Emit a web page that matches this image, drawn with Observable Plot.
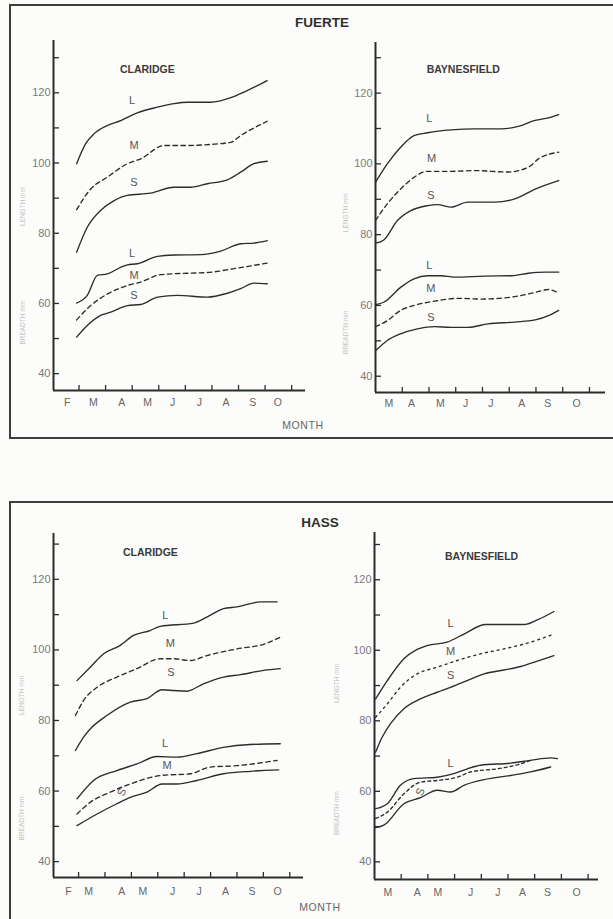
<!DOCTYPE html>
<html><head><meta charset="utf-8">
<script src="https://cdn.jsdelivr.net/npm/d3@7"></script>
<script src="https://cdn.jsdelivr.net/npm/@observablehq/plot@0.6"></script>
<style>
html,body{margin:0;padding:0;}
body{background:#fcfcfa;width:613px;height:919px;overflow:hidden;position:relative;font-family:"Liberation Sans",Arial,sans-serif;}
.frame{position:absolute;border:2.5px solid #3d3d3d;box-sizing:border-box;}
.title{position:absolute;font-weight:bold;font-size:13.5px;color:#2f2f2f;transform:translateX(-50%);white-space:nowrap;}
.xlab{position:absolute;font-size:10.5px;color:#666;letter-spacing:0.6px;transform:translateX(-50%);white-space:nowrap;}
</style></head><body>
<div class="frame" style="left:9px;top:4px;width:640px;height:435px"></div>
<div class="frame" style="left:9px;top:501px;width:640px;height:460px"></div>
<div class="title" style="left:322px;top:15px">FUERTE</div>
<div class="title" style="left:320px;top:515px">HASS</div>
<div class="xlab" style="left:303px;top:419px">MONTH</div>
<div class="xlab" style="left:320px;top:901px">MONTH</div>
<script>
// ---- month tick labels ----
const claridgeMonths = ["F","M","A","M","J","J","A","S","O"];
const baynesMonths = ["M","A","M","J","J","A","S","O"];
const fcMonthAt = [2.56,3.54,4.61,5.58,6.52,7.53,8.53,9.54,10.48];
const fbMonthAt = [3.50,4.35,5.43,6.37,7.31,8.47,9.44,10.52];
const hcMonthAt = [2.62,3.38,4.64,5.44,6.56,7.57,8.57,9.57,10.54];
const hbMonthAt = [3.50,4.60,5.37,6.60,7.62,8.54,9.48,10.57];
const yTicks = [40,50,60,70,80,90,100,110,120,130];
const yTickLabels = [40,60,80,100,120];
const sizeLetters = ["L","M","S","L","M","S"];

// ---- FUERTE, CLARIDGE  [month, mm] ----
const fcLenL = [[2.91,99.8],[3.25,105.5],[3.56,108.3],[4.07,110.7],[4.57,112.1],[5.19,114.3],[5.95,115.9],[6.57,116.9],[7.08,117.3],[7.95,117.3],[8.71,118.6],[9.21,120.2],[10.08,123.5]];
const fcLenM = [[2.91,86.7],[3.44,92.6],[4.07,96.0],[4.82,99.8],[5.32,101.2],[6.20,105.0],[7.08,105.0],[7.95,105.3],[8.71,105.9],[9.08,107.8],[10.08,111.9]];
const fcLenS = [[2.91,74.6],[3.31,81.7],[3.81,86.5],[4.32,89.3],[4.82,90.8],[5.69,91.4],[6.57,93.1],[7.20,93.1],[7.83,94.1],[8.58,95.2],[9.08,97.4],[9.58,99.8],[10.08,100.5]];
const fcBrL = [[2.91,60.1],[3.31,62.3],[3.69,68.0],[4.07,68.4],[4.57,70.3],[4.82,71.0],[5.19,71.3],[5.95,73.4],[6.57,73.8],[7.58,73.9],[8.33,74.9],[9.08,77.0],[9.58,77.2],[10.08,77.9]];
const fcBrM = [[2.91,55.3],[3.44,59.4],[4.07,62.7],[4.82,65.1],[5.32,66.1],[6.07,68.2],[7.08,68.6],[7.83,68.8],[8.83,69.9],[10.08,71.5]];
const fcBrS = [[2.91,50.4],[3.31,53.7],[3.81,56.6],[4.19,57.5],[4.82,59.4],[5.32,59.7],[5.95,61.8],[6.70,62.3],[7.83,61.8],[8.58,62.9],[9.08,64.2],[9.58,65.8],[10.08,65.6]];
const fcLetterAt = [[5.0,117.8],[5.07,105.0],[5.07,94.5],[5.0,74.1],[5.07,68.0],[5.07,62.3]];

// ---- FUERTE, BAYNESFIELD ----
const fbLenL = [[3.0,94.8],[3.44,100.0],[3.94,104.7],[4.44,108.0],[4.95,108.8],[5.83,109.6],[6.71,109.9],[7.71,109.9],[8.34,110.6],[8.97,112.3],[9.47,113.0],[9.85,113.9]];
const fbLenM = [[3.0,84.0],[3.44,88.7],[3.94,92.9],[4.44,96.2],[4.95,97.9],[5.83,97.9],[6.71,98.1],[7.96,97.7],[8.72,99.1],[9.09,101.4],[9.85,103.3]];
const fbLenS = [[3.0,77.6],[3.31,78.5],[3.82,84.0],[4.32,86.8],[4.95,88.2],[5.32,88.5],[5.83,87.8],[6.45,89.2],[7.46,89.2],[8.21,90.1],[8.97,92.9],[9.85,95.3]];
const fbBrL = [[3.0,60.2],[3.31,60.9],[3.94,65.1],[4.44,67.5],[4.95,68.4],[5.45,68.4],[5.95,68.0],[7.08,68.3],[8.09,68.4],[8.72,69.1],[9.34,69.4],[9.85,69.4]];
const fbBrM = [[3.0,54.0],[3.44,55.7],[3.94,58.6],[4.44,60.0],[5.20,61.2],[6.08,62.0],[6.96,61.8],[8.21,62.5],[8.97,63.7],[9.47,64.5],[9.85,63.5]];
const fbBrS = [[3.0,47.2],[3.44,50.1],[3.94,52.0],[4.57,53.4],[5.20,54.0],[5.83,53.8],[6.45,53.8],[7.21,54.8],[8.21,55.3],[8.97,55.9],[9.47,57.1],[9.85,58.6]];
const fbLetterAt = [[5.01,112.7],[5.10,101.4],[5.07,91.1],[5.01,71.3],[5.07,64.7],[5.07,56.7]];

// ---- HASS, CLARIDGE ----
const hcLenL = [[2.94,91.3],[3.44,95.1],[3.95,98.9],[4.58,101.3],[5.08,104.1],[5.71,105.5],[6.09,106.7],[7.36,107.6],[7.86,109.3],[8.49,111.7],[9.00,112.2],[9.88,113.6],[10.52,113.6]];
const hcLenM = [[2.88,81.4],[3.19,85.7],[3.70,89.4],[4.45,92.3],[5.21,94.7],[6.09,97.5],[6.60,97.5],[7.23,97.0],[7.86,98.4],[9.00,100.3],[10.01,101.6],[10.64,103.6]];
const hcLenS = [[2.88,71.5],[3.19,75.3],[3.44,77.6],[4.07,81.4],[4.96,85.2],[5.59,86.2],[6.16,88.7],[6.60,88.5],[7.10,88.3],[7.73,90.4],[8.49,92.3],[9.13,93.0],[10.01,94.2],[10.64,94.7]];
const hcBrL = [[2.94,57.8],[3.57,63.0],[4.45,65.8],[5.21,67.7],[5.97,69.8],[6.73,69.6],[7.48,70.6],[8.49,72.4],[9.50,73.2],[10.64,73.4]];
const hcBrM = [[2.94,53.5],[3.44,56.8],[4.20,59.7],[4.96,62.0],[6.09,64.4],[7.23,64.9],[7.98,66.8],[9.00,67.2],[10.52,68.7]];
const hcBrS = [[2.94,50.2],[3.70,53.5],[4.45,56.4],[4.96,58.2],[5.59,59.7],[6.16,62.0],[6.73,62.0],[7.48,63.0],[8.49,64.9],[9.50,65.6],[10.58,66.0]];
const hcLetterAt = [[6.29,109.8],[6.48,101.7],[6.50,93.7],[6.28,73.4],[6.35,67.2],[4.64,59.7]];

// ---- HASS, BAYNESFIELD ----
const hbLenL = [[3.04,86.2],[3.48,91.4],[4.10,97.6],[4.97,101.3],[5.72,102.3],[6.35,104.6],[7.16,107.3],[7.85,107.3],[8.60,107.3],[9.10,108.6],[9.72,111.0]];
const hbLenM = [[3.04,81.0],[3.48,84.8],[3.97,89.5],[4.60,93.3],[5.35,95.2],[6.10,97.1],[6.97,99.0],[7.85,100.4],[8.85,102.3],[9.72,104.6]];
const hbLenS = [[3.04,71.1],[3.29,75.4],[3.60,79.2],[4.10,83.4],[4.72,86.2],[5.35,88.1],[5.85,89.5],[6.47,91.4],[7.10,93.3],[7.85,94.4],[8.47,95.4],[9.10,96.9],[9.72,98.5]];
const hbBrL = [[3.04,55.1],[3.48,56.5],[3.97,61.7],[4.47,63.6],[5.35,64.0],[5.97,65.0],[6.48,66.4],[6.97,67.4],[8.10,68.0],[8.85,68.8],[9.60,69.5],[9.85,69.3]];
const hbBrM = [[3.04,52.3],[3.48,54.1],[4.10,59.3],[4.72,62.6],[5.35,63.1],[6.10,64.0],[6.60,65.5],[7.60,66.4],[8.47,67.8],[8.85,68.8]];
const hbBrS = [[3.04,49.7],[3.35,50.4],[4.10,56.5],[4.72,58.2],[5.35,60.3],[5.85,59.8],[6.35,61.7],[7.10,63.3],[8.10,64.5],[8.85,65.5],[9.60,66.9]];
const hbLetters = ["L","M","S","L","S"];
const hbLetterAt = [[5.85,107.5],[5.85,99.7],[5.85,92.8],[5.85,67.8],[4.72,59.8]];

const INK = "#2c2c2c";
const DASH = "4.5,3.5";

function subplot(o) {
  const mL = 52, mR = 14, mT = 12, mB = 26;
  const W = o.x1 - o.x0, H = o.y1 - o.y0;
  const tickMonths = d3.range(Math.ceil(o.xDomain[0] + 0.01), Math.floor(o.xDomain[1]) + 1);
  const letterData = o.letters.map((t, i) => ({t, x: o.letterAt[i][0], y: o.letterAt[i][1], r: o.letterRot ? o.letterRot[i] : 0}));
  const marks = [
    Plot.ruleX([o.xDomain[0]], {stroke: INK, strokeWidth: 2}),
    Plot.ruleY([o.yDomain[0]], {stroke: INK, strokeWidth: 2}),
    Plot.tickY(yTicks, {y: d => d, insetRight: W - 6, stroke: INK, strokeWidth: 1.3}),
    Plot.tickX(tickMonths, {x: d => d, insetTop: H - 5, stroke: INK, strokeWidth: 1.3}),
    Plot.text(yTickLabels, {x: o.xDomain[0], y: d => d, text: d => String(d), textAnchor: "end", dx: -3, fill: "#7a7a7a", fontSize: 11, letterSpacing: "0.5px"}),
    Plot.text(o.monthNames, {x: (d, i) => o.monthAt[i], y: o.yDomain[0], text: d => d, dy: o.monthDy, fill: "#666", fontSize: 10.5}),
    Plot.text(["LENGTH mm"], {x: o.xDomain[0], y: o.lenAt, text: d => d, rotate: -90, dx: o.titleDx, fill: "#c4c4c4", fontSize: 6.5}),
    Plot.text(["BREADTH mm"], {x: o.xDomain[0], y: o.brAt, text: d => d, rotate: -90, dx: o.titleDx, fill: "#c4c4c4", fontSize: 6.5}),
    Plot.text([o.site], {x: o.siteAt[0], y: o.siteAt[1], text: d => d, fontWeight: "bold", fontSize: 10.5, fill: "#3a3a3a"}),
    Plot.text(letterData, {x: "x", y: "y", text: "t", rotate: "r", fill: "#555", fontSize: 11})
  ];
  o.lines.forEach(l => marks.push(Plot.line(l.data, {x: d => d[0], y: d => d[1], curve: "monotone-x", stroke: INK, strokeWidth: 1.35, strokeDasharray: l.dash || null})));
  const svg = Plot.plot({
    width: W + mL + mR, height: H + mT + mB,
    marginLeft: mL, marginRight: mR, marginTop: mT, marginBottom: mB,
    x: {domain: o.xDomain, range: [mL, mL + W], axis: null},
    y: {domain: o.yDomain, range: [mT + H, mT], axis: null},
    style: {background: "transparent", fontFamily: "'Liberation Sans', Arial, sans-serif", overflow: "visible"},
    marks
  });
  svg.style.position = "absolute";
  svg.style.left = (o.x0 - mL) + "px";
  svg.style.top = (o.y0 - mT) + "px";
  document.body.appendChild(svg);
}

subplot({x0: 53, x1: 305, y0: 40, y1: 390, xDomain: [2.04, 11.52], yDomain: [35.2, 134.9],
  lines: [{data: fcLenL}, {data: fcLenM, dash: DASH}, {data: fcLenS}, {data: fcBrL}, {data: fcBrM, dash: DASH}, {data: fcBrS}],
  letters: sizeLetters, letterAt: fcLetterAt, site: "CLARIDGE", siteAt: [5.57, 126.6],
  monthNames: claridgeMonths, monthAt: fcMonthAt, monthDy: 12, lenAt: 87.6, brAt: 54.5, titleDx: -31});

subplot({x0: 375, x1: 605, y0: 42, y1: 392, xDomain: [3.0, 11.6], yDomain: [35.4, 134.3],
  lines: [{data: fbLenL}, {data: fbLenM, dash: DASH}, {data: fbLenS}, {data: fbBrL}, {data: fbBrM, dash: DASH}, {data: fbBrS}],
  letters: sizeLetters, letterAt: fbLetterAt, site: "BAYNESFIELD", siteAt: [6.28, 126.7],
  monthNames: baynesMonths, monthAt: fbMonthAt, monthDy: 11, lenAt: 86.2, brAt: 52.4, titleDx: -30});

subplot({x0: 53, x1: 303, y0: 533, y1: 877, xDomain: [2.05, 11.52], yDomain: [35.5, 133.0],
  lines: [{data: hcLenL}, {data: hcLenM, dash: DASH}, {data: hcLenS}, {data: hcBrL}, {data: hcBrM, dash: DASH}, {data: hcBrS}],
  letters: sizeLetters, letterAt: hcLetterAt, letterRot: [0,0,0,0,0,-65], site: "CLARIDGE", siteAt: [5.72, 127.7],
  monthNames: claridgeMonths, monthAt: hcMonthAt, monthDy: 14, lenAt: 87.1, brAt: 52.2, titleDx: -32});

subplot({x0: 374, x1: 598, y0: 532, y1: 879, xDomain: [3.0, 11.39], yDomain: [35.0, 133.4],
  lines: [{data: hbLenL}, {data: hbLenM, dash: "2,4"}, {data: hbLenS}, {data: hbBrL}, {data: hbBrM, dash: "3,3"}, {data: hbBrS}],
  letters: hbLetters, letterAt: hbLetterAt, letterRot: [0,0,0,0,-65], site: "BAYNESFIELD", siteAt: [7.01, 126.5],
  monthNames: baynesMonths, monthAt: hbMonthAt, monthDy: 13, lenAt: 90.6, brAt: 53.8, titleDx: -38});
</script>
</body></html>
